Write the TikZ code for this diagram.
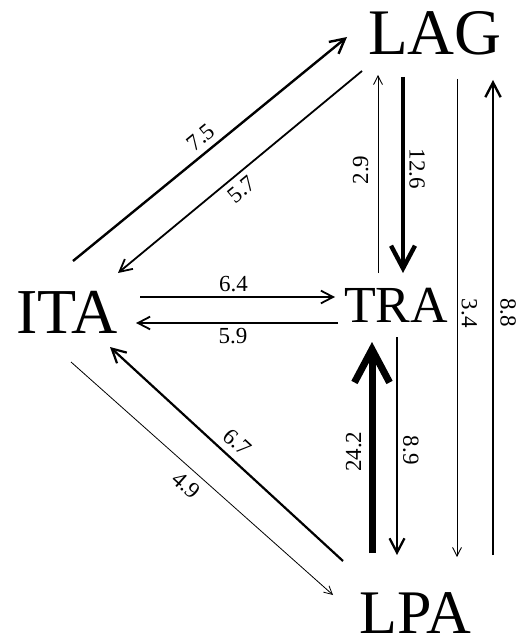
\documentclass[tikz,border=0pt]{standalone}
\usepackage{fontspec}
\setmainfont{Liberation Serif}
\usetikzlibrary{arrows.meta}
\begin{document}
\begin{tikzpicture}[x=1pt, y=-1pt, >={Straight Barb[length=5pt 4, width=5pt 4.3]},
  site/.style={anchor=base, inner sep=0pt},
  flow/.style={->, line width=#1},
  lbl/.style={font=\fontsize{23}{23}\selectfont, inner sep=4pt}]
\useasboundingbox (0,0) rectangle (520,636);
% sites
\node[site, font=\fontsize{65}{65}\selectfont] (LAG) at (435,55) {LAG};
\node[site, font=\fontsize{64}{64}\selectfont] (ITA) at (67,333) {ITA};
\node[site, font=\fontsize{52}{52}\selectfont] (TRA) at (396,322) {TRA};
\node[site, font=\fontsize{62}{62}\selectfont] (LPA) at (415,633) {LPA};
% ITA <-> LAG
\draw[flow=2.4pt] ([shift={(6,-72)}]ITA.base) -- node[lbl, sloped, pos=.5, anchor=south, inner sep=6pt] {7.5} ([shift={(-88,-18)}]LAG.base);
\draw[flow=1.8pt] ([shift={(-73,16)}]LAG.base) -- node[lbl, sloped, pos=.53, anchor=north, inner sep=6pt] {5.7} ([shift={(51,-60)}]ITA.base);
% TRA <-> LAG
\draw[flow=0.9pt] ([shift={(-18,-49)}]TRA.base) -- node[lbl, rotate=90, pos=.52, anchor=south, inner sep=9pt] {2.9} ([shift={(-57,20)}]LAG.base);
\draw[flow=4.4pt] ([shift={(-32,22)}]LAG.base) -- node[lbl, rotate=-90, pos=.47, anchor=south] {12.6} ([shift={(7,-49)}]TRA.base);
% LPA <-> LAG
\draw[flow=0.9pt] ([shift={(22,24)}]LAG.base) -- node[lbl, rotate=-90, pos=.49, anchor=south] {3.4} ([shift={(42,-76)}]LPA.base);
\draw[flow=2.4pt] ([shift={(78,-78)}]LPA.base) -- node[lbl, rotate=-90, pos=.51, anchor=south, inner sep=6pt] {8.8} ([shift={(58,25)}]LAG.base);
% ITA <-> TRA
\draw[flow=1.8pt] ([shift={(73,-36)}]ITA.base) -- node[lbl, pos=.48, anchor=south] {6.4} ([shift={(-61,-25)}]TRA.base);
\draw[flow=1.8pt] ([shift={(-58,1)}]TRA.base) -- node[lbl, pos=.52, anchor=north] {5.9} ([shift={(69,-10)}]ITA.base);
% ITA <-> LPA
\draw[flow=2.2pt] ([shift={(-72,-72)}]LPA.base) -- node[lbl, sloped, pos=.5, anchor=south, inner sep=7pt] {6.7} ([shift={(43,14)}]ITA.base);
\draw[flow=0.8pt] ([shift={(4,29)}]ITA.base) -- node[lbl, sloped, pos=.48, anchor=north, inner sep=7pt] {4.9} ([shift={(-82,-38)}]LPA.base);
% TRA <-> LPA
\draw[flow=7pt] ([shift={(-43,-80)}]LPA.base) -- node[lbl, rotate=90, pos=.48, anchor=south, inner sep=7pt] {24.2} ([shift={(-24,20)}]TRA.base);
\draw[flow=2.3pt] ([shift={(1,15)}]TRA.base) -- node[lbl, rotate=-90, pos=.52, anchor=south, inner sep=5pt] {8.9} ([shift={(-18,-78)}]LPA.base);
\end{tikzpicture}
\end{document}
